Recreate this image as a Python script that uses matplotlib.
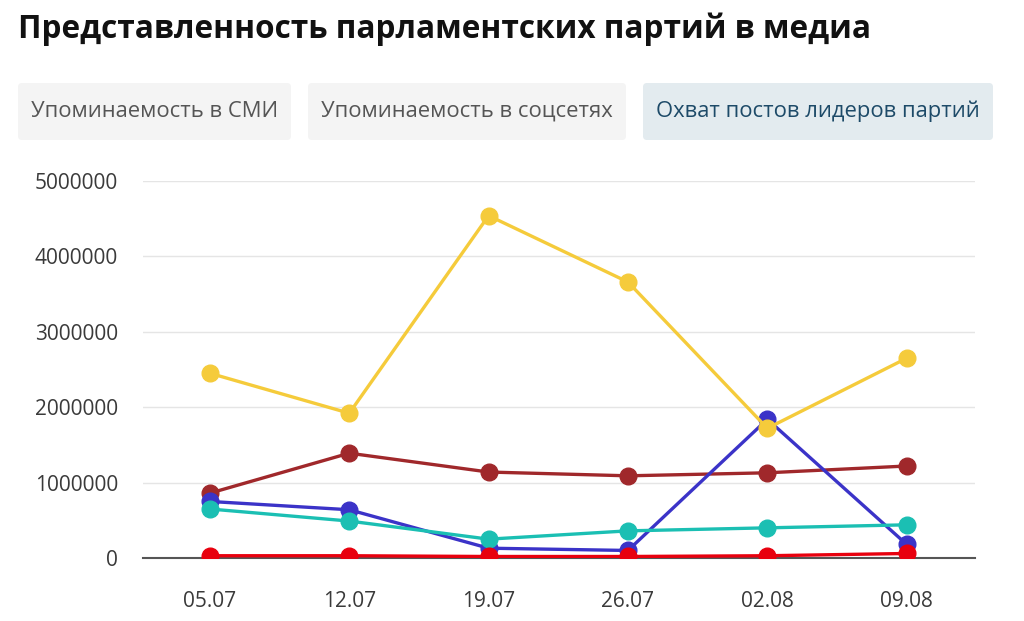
import matplotlib
matplotlib.use("Agg")
from matplotlib import pyplot as plt
from matplotlib.patches import FancyBboxPatch
import numpy as np

plt.rcParams['font.family'] = ['Open Sans', 'DejaVu Sans']

dates = ["05.07", "12.07", "19.07", "26.07", "02.08", "09.08"]
yellow_vals = [2450000, 1920000, 4540000, 3660000, 1720000, 2650000]
brown_vals = [860000, 1390000, 1140000, 1090000, 1130000, 1220000]
blue_vals = [750000, 640000, 130000, 100000, 1840000, 180000]
teal_vals = [650000, 490000, 250000, 360000, 400000, 440000]
red_vals = [30000, 30000, 20000, 20000, 30000, 60000]
yticks = [0, 1000000, 2000000, 3000000, 4000000, 5000000]
buttons = ["Упоминаемость в СМИ", "Упоминаемость в соцсетях", "Охват постов лидеров партий"]
title = "Представленность парламентских партий в медиа"

fig = plt.figure(figsize=(10.24, 6.21), dpi=100)

# background axes in pixel coords for title + buttons
bg = fig.add_axes([0, 0, 1, 1])
bg.set_xlim(0, 1024)
bg.set_ylim(621, 0)
bg.axis("off")
bg.text(18, 29, title, fontsize=22.7, fontweight="bold", color="#111111",
        va="center", ha="left")

btn_x = [(18, 291), (308, 626), (643, 993)]
btn_bg = ["#f4f4f4", "#f4f4f4", "#e3ebef"]
btn_fg = ["#555555", "#555555", "#1d4a68"]
for (x0, x1), lab, bc, fc in zip(btn_x, buttons, btn_bg, btn_fg):
    bg.add_patch(FancyBboxPatch((x0, 83), x1 - x0, 57,
                                boxstyle="round,pad=0,rounding_size=4",
                                fc=bc, ec="none"))
    bg.text((x0 + x1) / 2, 111.5, lab, fontsize=15.8, color=fc, ha="center", va="center")

ax = fig.add_axes([143 / 1024, 1 - 558 / 621, (975 - 143) / 1024, (558 - 181) / 621])
ax.patch.set_alpha(0)
x = np.arange(len(dates))
series = [
    (brown_vals, "#a0282b"),
    (blue_vals, "#3b33c8"),
    (teal_vals, "#1bbfb3"),
    (red_vals, "#e8000e"),
    (yellow_vals, "#f5cb3b"),
]
for vals, c in series:
    ax.plot(x, vals, color=c, lw=2.4, marker="o", ms=12, zorder=3)

ax.set_xlim(-0.48, 5.49)
ax.set_ylim(0, 5000000)
ax.set_xticks(x)
ax.set_xticklabels(dates)
ax.set_yticks(yticks)
ax.set_yticklabels([str(v) for v in yticks])
ax.tick_params(length=0, labelsize=15, colors="#3a3a3a")
ax.tick_params(axis="y", pad=18)
ax.tick_params(axis="x", pad=24)
ax.grid(axis="y", color="#e5e5e5", lw=1)
ax.set_axisbelow(True)
for s in ["top", "right", "left"]:
    ax.spines[s].set_visible(False)
ax.spines["bottom"].set_color("#555555")
ax.spines["bottom"].set_linewidth(1.5)
ax.spines["bottom"].set_zorder(2)

fig.savefig("out.png", dpi=100)
